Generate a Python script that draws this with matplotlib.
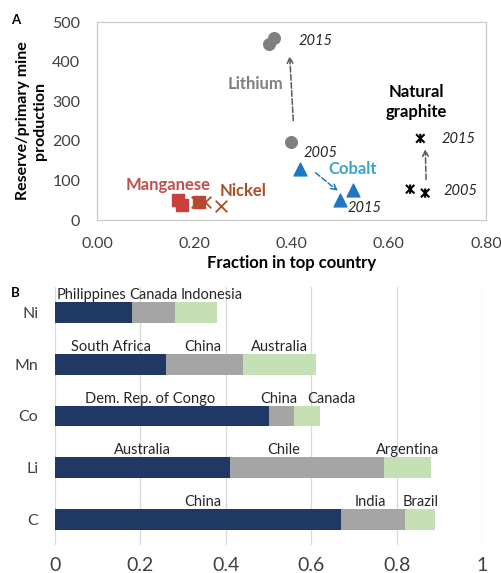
import matplotlib
matplotlib.use("Agg")
import matplotlib.pyplot as plt
from matplotlib.path import Path

plt.rcParams['font.family'] = ['Lato', 'DejaVu Sans']

# ---- panel A: concentration vs reserve/production ----
li_x = [0.400, 0.354, 0.364]
li_y = [198, 444, 459]
co_x = [0.418, 0.500, 0.526]
co_y = [128, 50, 77]
gr_x = [0.644, 0.675, 0.665]
gr_y = [78, 68, 206]
mn_x = [0.167, 0.174, 0.209]
mn_y = [50, 38, 45]
ni_x = [0.205, 0.222, 0.256]
ni_y = [46, 46, 36]

# ---- panel B: share of top three producers ----
elements = ['C', 'Li', 'Co', 'Mn', 'Ni']
first = [0.67, 0.41, 0.50, 0.26, 0.18]
second = [0.15, 0.36, 0.06, 0.18, 0.10]
third = [0.07, 0.11, 0.06, 0.17, 0.10]
countries = [
    ['China', 'India', 'Brazil'],
    ['Australia', 'Chile', 'Argentina'],
    ['Dem. Rep. of Congo', 'China', 'Canada'],
    ['South Africa', 'China', 'Australia'],
    ['Philippines', 'Canada', 'Indonesia'],
]
# small nudges so labels do not collide
nudge = {('Ni', 0): -0.004, ('Ni', 2): 0.036, ('Mn', 1): -0.005,
         ('Co', 0): -0.027, ('Co', 1): -0.006, ('Co', 2): 0.058,
         ('Li', 1): -0.054, ('C', 0): 0.012, ('C', 1): -0.007}

fig = plt.figure(figsize=(5.01, 5.73), dpi=100)

ax = fig.add_axes([0.1936, 0.616, 0.7764, 0.3456])
ax.set_xlim(0, 0.8)
ax.set_ylim(0, 500)
ax.set_xticks([0, 0.2, 0.4, 0.6, 0.8])
ax.set_xticklabels(['0.00', '0.20', '0.40', '0.60', '0.80'])
ax.set_yticks([0, 100, 200, 300, 400, 500])
ax.tick_params(length=0, labelsize=11.5, colors='#404040')
ax.tick_params(axis='x', pad=12)
ax.tick_params(axis='y', pad=12)
for s in ax.spines.values():
    s.set_color('#c8c8c8')
    s.set_linewidth(0.9)

ax.scatter(li_x, li_y, s=70, color='#7f7f7f', zorder=3)
ax.scatter(co_x, co_y, s=85, marker='^', color='#1f77c4', zorder=3)
ax.scatter(mn_x, mn_y, s=80, marker='s', color='#c8413a', zorder=3)
ax.scatter(ni_x, ni_y, s=70, marker='x', color='#a9502a', linewidths=1.3, zorder=4)

# asterisk marker: an x with a vertical stroke through it
star = Path([(-1, -1), (1, 1), (-1, 1), (1, -1), (0, 1.1), (0, -1.1)],
            [Path.MOVETO, Path.LINETO] * 3)
ax.scatter(gr_x, gr_y, s=45, marker=star, facecolors='none', edgecolors='black',
           linewidths=1.5, zorder=3)

arr_grey = dict(arrowstyle='->', linestyle='--', color='#595959', lw=1.1, mutation_scale=10)
ax.annotate('', xy=(0.396, 421), xytext=(0.404, 244), arrowprops=arr_grey)
ax.annotate('', xy=(0.675, 186), xytext=(0.677, 95), arrowprops=arr_grey)
ax.annotate('', xy=(0.500, 69), xytext=(0.445, 124),
            arrowprops=dict(arrowstyle='->', linestyle='--', color='#2e75b6', lw=1.1, mutation_scale=10))

yr = dict(fontsize=10.5, style='italic', color='#262626', ha='left', va='center')
ax.text(0.414, 452, '2015', **yr)
ax.text(0.424, 169, '2005', **yr)
ax.text(0.516, 30, '2015', **yr)
ax.text(0.708, 205, '2015', **yr)
ax.text(0.712, 73, '2005', **yr)

lab = dict(fontsize=12, fontweight='bold', ha='center', va='center')
ax.text(0.326, 343, 'Lithium', color='#808080', **lab)
ax.text(0.525, 129, 'Cobalt', color='#3aa5cc', **lab)
ax.text(0.656, 299, 'Natural\ngraphite', color='black', linespacing=1.3, **lab)
ax.text(0.147, 88, 'Manganese', color='#c0504d', **lab)
ax.text(0.301, 73, 'Nickel', color='#a9502a', **lab)

ax.set_xlabel('Fraction in top country', fontsize=12, fontweight='bold', labelpad=3)
ax.set_ylabel('Reserve/primary mine\nproduction', fontsize=11.5, fontweight='bold', labelpad=4)

fig.text(0.032, 0.965, 'A', fontsize=9.5, fontweight='bold', ha='center', va='center')
fig.text(0.030, 0.489, 'B', fontsize=9.5, fontweight='bold', ha='center', va='center')

# ---- panel B drawing ----
bx = fig.add_axes([0.1098, 0.0489, 0.853, 0.4502])
pos = list(range(len(elements)))
left2 = [a for a in first]
left3 = [a + b for a, b in zip(first, second)]
bx.barh(pos, first, height=0.4, color='#1f3864', zorder=3)
bx.barh(pos, second, left=left2, height=0.4, color='#a5a5a5', zorder=3)
bx.barh(pos, third, left=left3, height=0.4, color='#c5e0b4', zorder=3)

for i, el in enumerate(elements):
    starts = [0, left2[i], left3[i]]
    widths = [first[i], second[i], third[i]]
    for j in range(3):
        cx = starts[j] + widths[j] / 2 + nudge.get((el, j), 0)
        bx.text(cx, i + 0.2, countries[i][j], fontsize=10.5, color='#262626',
                ha='center', va='bottom')

bx.set_xlim(0, 1)
bx.set_ylim(-0.5, 4.5)
bx.set_xticks([0, 0.2, 0.4, 0.6, 0.8, 1])
bx.set_xticklabels(['0', '0.2', '0.4', '0.6', '0.8', '1'])
bx.set_yticks(pos)
bx.set_yticklabels(elements)
bx.tick_params(length=0, colors='#404040')
bx.tick_params(axis='x', labelsize=14, pad=9)
bx.tick_params(axis='y', labelsize=11.5, pad=12)
bx.grid(axis='x', color='#d9d9d9', linewidth=0.9, zorder=0)
for s in bx.spines.values():
    s.set_visible(False)

fig.savefig('out.png', dpi=100)
